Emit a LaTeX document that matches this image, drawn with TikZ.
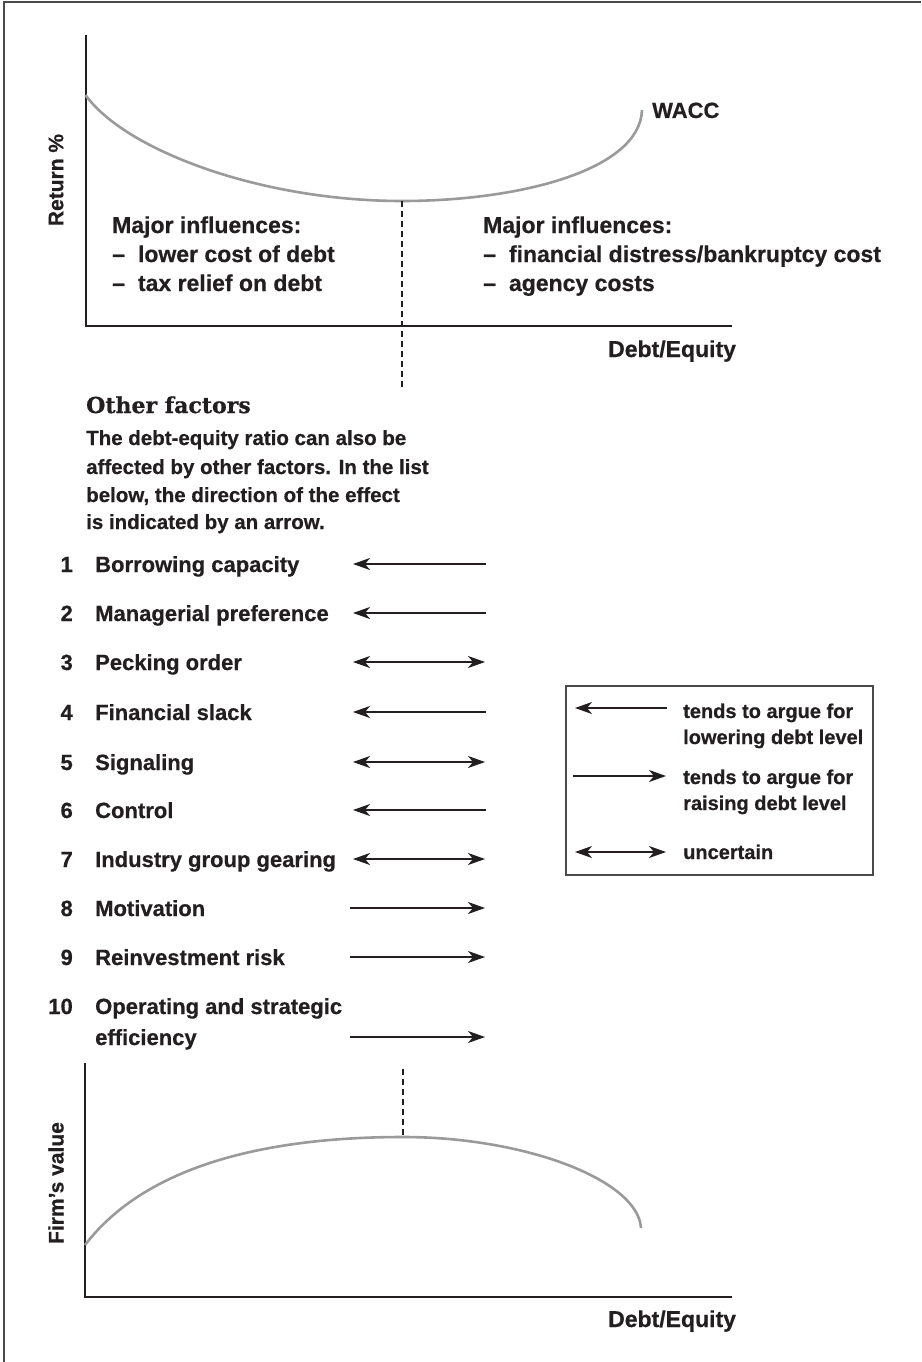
\documentclass[tikz,border=0pt]{standalone}
\usepackage{fontspec}
\setmainfont{Liberation Sans}[BoldFeatures={FakeBold=0.6}]
\newfontfamily\headfont{DejaVu Serif}[BoldFeatures={FakeBold=0.8}]
\usetikzlibrary{arrows.meta}
\definecolor{ink}{HTML}{231F20}
\definecolor{curvegray}{HTML}{9A9A9A}
\definecolor{framegray}{HTML}{4A4A4A}
\tikzset{
  txt/.style={anchor=base west, inner sep=0pt, text=ink, font=\bfseries\fontsize{22}{26}\selectfont},
  charttxt/.style={txt, font=\bfseries\fontsize{23}{27}\selectfont},
  paratxt/.style={txt, font=\bfseries\fontsize{20.5}{25}\selectfont},
  legtxt/.style={txt, font=\bfseries\fontsize{20}{24}\selectfont},
  numtxt/.style={anchor=base east, inner sep=0pt, text=ink, font=\bfseries\fontsize{22}{26}\selectfont},
  axis/.style={draw=ink, line width=2pt},
  wcurve/.style={draw=curvegray, line width=2.6pt},
  guide/.style={draw=ink, line width=1.2pt, dash pattern=on 6pt off 4pt},
  tipL/.style={draw=ink, line width=1.3pt, -{Stealth[length=17pt,width=12pt,inset=5pt]}},
  tipB/.style={draw=ink, line width=1.3pt, {Stealth[length=17pt,width=12pt,inset=5pt]}-{Stealth[length=17pt,width=12pt,inset=5pt]}},
  ylabel/.style={anchor=center, inner sep=0pt, text=ink, rotate=90, font=\bfseries\fontsize{21}{25}\selectfont},
}
\begin{document}
\begin{tikzpicture}[x=1pt,y=-1pt]
\useasboundingbox (0,0) rectangle (921,1362);
% frame (top and left only)
\draw[framegray, line width=2.5pt] (921,2) -- (4,2) -- (4,1362);

% ===== top chart =====
\coordinate (tO) at (86,326);
\coordinate (tY) at (86,35);
\coordinate (tX) at (732,326);
\draw[axis] (tY) -- (tO) -- (tX);
\coordinate (w0) at (85.5,95);
\coordinate (wmin) at (402,201);
\coordinate (w1) at (642,110);
\draw[wcurve] (w0) .. controls (125,150) and (260,201) .. (wmin)
                   .. controls (520,201) and (640,170) .. (w1);
\coordinate (tdash) at (402,390);
\draw[guide] (wmin) -- (tdash);
\node[txt] (wacc) at (652,118) {WACC};
\node[ylabel] (ret) at (56,180) {Return \%};
\node[charttxt] (ml0) at (112,233) {Major influences:};
\node[charttxt] (ml1) at (112,262) {–\hspace{13pt}lower cost of debt};
\node[charttxt] (ml2) at (112,291) {–\hspace{13pt}tax relief on debt};
\node[charttxt] (mr0) at (483,233) {Major influences:};
\node[charttxt] (mr1) at (483,262) {–\hspace{13pt}financial distress/bankruptcy cost};
\node[charttxt] (mr2) at (483,291) {–\hspace{13pt}agency costs};
\node[charttxt] (tde) at (608,357) {Debt/Equity};

% ===== other factors =====
\node[txt, font=\headfont\bfseries\fontsize{22}{26}\selectfont] (of) at (86,413) {Other factors};
\node[paratxt] (p1) at (86,445) {The debt-equity ratio can also be};
\node[paratxt] (p2) at (86,474) {affected by other factors. In the list};
\node[paratxt] (p3) at (86,502) {below, the direction of the effect};
\node[paratxt] (p4) at (86,529) {is indicated by an arrow.};

% list items
\foreach \n/\t/\y in {1/Borrowing capacity/564, 2/Managerial preference/613, 3/Pecking order/662,
  4/Financial slack/712, 5/Signaling/762, 6/Control/810, 7/Industry group gearing/859,
  8/Motivation/908, 9/Reinvestment risk/957, 10/Operating and strategic/1006}{
  \node[numtxt] (n\n) at (73,\y+8) {\n};
  \node[txt] (i\n) at (95,\y+8) {\t};
}
\node[txt] (i10b) at (95,1045) {efficiency};

% arrows
\foreach \k/\y in {1/564, 2/613, 4/712, 6/810}{
  \coordinate (a\k s) at (486,\y);
  \coordinate (a\k e) at (353,\y);
  \draw[tipL] (a\k s) -- (a\k e);
}
\foreach \k/\y in {3/662, 5/762, 7/859}{
  \coordinate (a\k s) at (353,\y);
  \coordinate (a\k e) at (485,\y);
  \draw[tipB] (a\k s) -- (a\k e);
}
\foreach \k/\y in {8/908, 9/957, 10/1037}{
  \coordinate (a\k s) at (350,\y);
  \coordinate (a\k e) at (485,\y);
  \draw[tipL] (a\k s) -- (a\k e);
}

% legend
\node[draw=framegray, line width=1.5pt, inner sep=0pt, minimum width=307pt, minimum height=189pt, anchor=north west] (leg) at (565,685) {};
\coordinate (l1s) at (667,708);
\coordinate (l1e) at (575,708);
\draw[tipL] (l1s) -- (l1e);
\coordinate (l2s) at (573,776);
\coordinate (l2e) at (666,776);
\draw[tipL] (l2s) -- (l2e);
\coordinate (l3s) at (575,852);
\coordinate (l3e) at (666,852);
\draw[tipB] (l3s) -- (l3e);
\node[legtxt] (lt1) at (683,718) {tends to argue for};
\node[legtxt] (lt2) at (683,744) {lowering debt level};
\node[legtxt] (lt3) at (683,784) {tends to argue for};
\node[legtxt] (lt4) at (683,810) {raising debt level};
\node[legtxt] (lt5) at (683,859) {uncertain};

% ===== bottom chart =====
\coordinate (bO) at (85,1297);
\coordinate (bY) at (85,1063);
\coordinate (bX) at (732,1297);
\draw[axis] (bY) -- (bO) -- (bX);
\coordinate (v0) at (85,1245);
\coordinate (vmax) at (403,1137);
\coordinate (v1) at (641,1228);
\draw[wcurve] (v0) .. controls (150,1160) and (280,1137) .. (vmax)
                   .. controls (525,1137) and (638,1180) .. (v1);
\coordinate (bdash) at (403,1069);
\draw[guide] (bdash) -- (vmax);
\node[ylabel] (fv) at (56,1183) {Firm’s value};
\node[charttxt] (bde) at (608,1327) {Debt/Equity};
\end{tikzpicture}
\end{document}
